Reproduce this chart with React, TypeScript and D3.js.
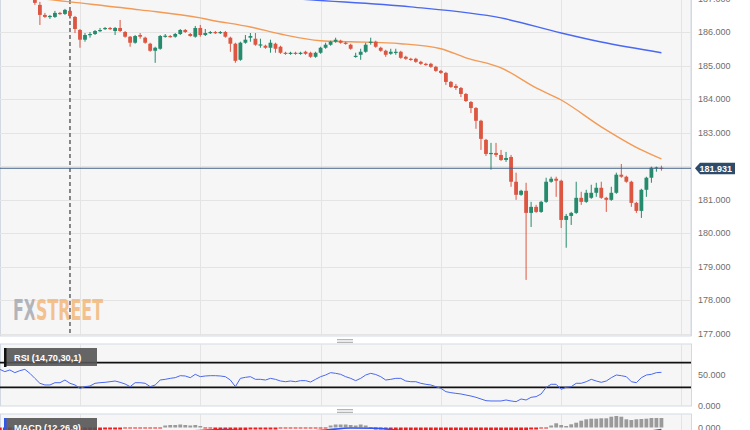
import React from 'react';
import * as d3 from 'd3';

// ---------- data ----------
const candleOpen = [
  186.96, 186.81, 186.51, 186.45, 186.45, 186.57, 186.54, 186.63, 186.45, 186.06,
  185.77, 185.91, 185.94, 186.03, 186.09, 186.12, 186.03, 186.12, 186.00, 185.86,
  185.68, 185.91, 185.83, 185.65, 185.44, 185.50, 185.87, 185.88, 185.86, 185.94,
  186.06, 185.94, 185.86, 186.12, 185.91, 185.97, 186.00, 185.97, 186.00, 185.83,
  185.65, 185.17, 185.68, 185.83, 185.80, 185.61, 185.59, 185.53, 185.65, 185.56,
  185.38, 185.35, 185.38, 185.35, 185.41, 185.38, 185.26, 185.38, 185.53, 185.62,
  185.71, 185.74, 185.68, 185.62, 185.26, 185.32, 185.41, 185.68, 185.71, 185.53,
  185.44, 185.35, 185.38, 185.41, 185.26, 185.20, 185.20, 185.11, 185.05, 185.05,
  184.96, 184.84, 184.78, 184.51, 184.39, 184.33, 184.15, 183.91, 183.73, 183.35,
  182.78, 182.36, 182.39, 182.33, 182.18, 182.27, 181.53, 181.14, 181.26, 180.60,
  180.78, 180.63, 180.93, 181.53, 181.62, 181.56, 180.39, 180.51, 180.60, 181.05,
  180.93, 181.05, 181.20, 181.35, 181.05, 180.99, 181.20, 181.74, 181.68, 181.53,
  180.90, 180.66, 181.29, 181.65, 181.93, 181.95,
];
const candleHigh = [
  187.00, 186.90, 186.57, 186.51, 186.63, 186.60, 186.69, 186.66, 186.48, 186.09,
  185.97, 186.00, 186.06, 186.12, 186.15, 186.15, 186.15, 186.36, 186.03, 185.88,
  185.91, 185.97, 185.86, 185.68, 185.56, 185.91, 185.94, 185.91, 185.97, 186.09,
  186.09, 185.97, 186.18, 186.21, 186.09, 186.03, 186.03, 186.03, 186.03, 185.86,
  185.68, 185.71, 185.91, 185.97, 185.97, 185.80, 185.62, 185.77, 185.68, 185.59,
  185.41, 185.41, 185.41, 185.41, 185.44, 185.41, 185.41, 185.56, 185.68, 185.74,
  185.83, 185.77, 185.71, 185.65, 185.38, 185.50, 185.68, 185.83, 185.74, 185.56,
  185.47, 185.50, 185.50, 185.44, 185.29, 185.23, 185.23, 185.14, 185.08, 185.08,
  184.99, 184.87, 184.81, 184.54, 184.45, 184.36, 184.18, 183.94, 183.76, 183.38,
  182.81, 182.69, 182.69, 182.48, 182.42, 182.33, 181.80, 181.29, 181.50, 180.93,
  180.84, 180.96, 181.65, 181.68, 181.68, 181.59, 180.57, 180.63, 181.53, 181.23,
  181.29, 181.44, 181.50, 181.53, 181.08, 181.38, 181.80, 182.06, 181.71, 181.56,
  180.93, 181.32, 181.68, 181.98, 181.98, 182.01,
];
const candleLow = [
  186.81, 186.21, 186.42, 186.39, 186.42, 186.51, 186.51, 186.39, 185.97, 185.53,
  185.71, 185.83, 185.91, 186.00, 186.06, 186.06, 185.91, 186.00, 185.83, 185.56,
  185.65, 185.80, 185.65, 185.41, 185.08, 185.47, 185.83, 185.83, 185.83, 185.91,
  185.97, 185.86, 185.83, 185.86, 185.88, 185.94, 185.94, 185.94, 185.83, 185.41,
  185.08, 185.14, 185.65, 185.71, 185.59, 185.53, 185.50, 185.38, 185.38, 185.35,
  185.32, 185.32, 185.32, 185.32, 185.32, 185.23, 185.23, 185.35, 185.50, 185.59,
  185.68, 185.65, 185.62, 185.47, 185.23, 185.17, 185.38, 185.62, 185.53, 185.41,
  185.26, 185.32, 185.32, 185.20, 185.17, 185.14, 185.08, 185.02, 184.99, 184.93,
  184.81, 184.75, 184.42, 184.33, 184.27, 184.06, 183.91, 183.58, 183.11, 182.48,
  182.30, 181.89, 182.27, 182.15, 182.12, 181.38, 180.99, 181.11, 178.60, 180.18,
  180.60, 180.60, 180.90, 181.50, 181.08, 180.15, 179.56, 180.24, 180.57, 180.84,
  180.90, 181.02, 181.08, 181.02, 180.63, 180.96, 181.17, 181.65, 181.50, 180.78,
  180.60, 180.45, 181.08, 181.50, 181.83, 181.86,
];
const candleClose = [
  186.87, 186.51, 186.45, 186.48, 186.57, 186.54, 186.66, 186.48, 186.09, 185.77,
  185.91, 185.94, 186.03, 186.06, 186.12, 186.09, 186.12, 186.03, 185.86, 185.68,
  185.88, 185.86, 185.68, 185.44, 185.53, 185.88, 185.89, 185.86, 185.94, 186.06,
  186.00, 185.88, 186.12, 185.91, 185.97, 186.00, 185.97, 186.00, 185.86, 185.65,
  185.14, 185.68, 185.77, 185.88, 185.62, 185.63, 185.53, 185.68, 185.50, 185.38,
  185.35, 185.38, 185.35, 185.38, 185.35, 185.26, 185.38, 185.53, 185.62, 185.71,
  185.77, 185.68, 185.65, 185.50, 185.29, 185.41, 185.62, 185.71, 185.56, 185.44,
  185.32, 185.41, 185.41, 185.23, 185.20, 185.17, 185.11, 185.05, 185.02, 184.96,
  184.84, 184.78, 184.51, 184.36, 184.33, 184.15, 183.94, 183.73, 183.35, 182.81,
  182.36, 182.39, 182.33, 182.18, 182.24, 181.53, 181.14, 181.26, 180.60, 180.78,
  180.63, 180.93, 181.53, 181.62, 181.56, 180.39, 180.51, 180.60, 181.05, 180.93,
  181.20, 181.20, 181.35, 181.05, 180.99, 181.20, 181.74, 181.68, 181.53, 180.90,
  180.66, 181.29, 181.65, 181.95, 181.96, 181.931,
];

// slow/fast moving averages, sampled at candle indices
const maFastIdx = [-7, 0, 7, 21, 33, 35, 43, 49, 57, 63, 73, 81, 86, 93, 100, 105, 113, 121, 125];
const maFastVal = [187.18, 187.02, 186.90, 186.66, 186.42, 186.36, 186.15, 185.94, 185.74, 185.71, 185.65, 185.50, 185.23, 184.93, 184.33, 183.97, 183.17, 182.48, 182.21];
const maSlowIdx = [40, 55, 75, 93, 105, 113, 125];
const maSlowVal = [187.12, 186.96, 186.75, 186.42, 185.97, 185.70, 185.38];

const rsiStart = -7;
const rsiValues = [
  59.1, 55.4, 58.1, 53.8, 57.0, 59.1, 52.7, 44.6, 36.6, 33.9,
  33.9, 37.6, 37.6, 41.9, 36.6, 33.9, 28.5, 31.2, 32.3, 36.6,
  37.6, 38.2, 39.2, 40.3, 38.2, 35.5, 31.2, 37.6, 37.6, 36.6,
  31.2, 33.9, 41.9, 43.0, 44.6, 45.7, 48.9, 48.4, 45.7, 51.1,
  47.3, 48.4, 48.9, 48.9, 48.4, 47.3, 41.9, 31.2, 44.6, 46.2,
  47.3, 43.0, 43.0, 41.9, 44.6, 43.0, 40.3, 39.2, 40.3, 39.2,
  40.9, 40.9, 38.7, 43.0, 47.3, 50.0, 53.8, 52.7, 51.1, 47.3,
  44.6, 40.9, 44.6, 50.0, 52.7, 50.8,
  47.3, 41.9, 43.0, 44.6, 44.6, 40.3, 39.2, 39.2, 36.6, 35.0,
  33.9, 31.2, 28.5, 23.1, 21.5, 20.4, 19.4, 17.7, 16.1, 14.0,
  11.3, 8.6, 8.1, 8.1, 8.1, 9.7, 8.1, 7.0, 11.3, 9.7,
  14.0, 15.1, 19.4, 30.1, 35.0, 35.0, 26.9, 30.1, 31.2, 36.6,
  36.6, 39.2, 43.0, 40.3, 38.2, 40.3, 45.7, 50.0, 48.9, 47.3,
  39.2, 37.6, 45.7, 50.0, 51.1, 53.8, 54.3,
];

const macdStart = -7;
const macdHist = [
  -0.03, -0.03, -0.04, -0.04, -0.05, -0.05, -0.05, -0.06, -0.06, -0.06,
  -0.06, -0.05, -0.05, -0.05, -0.05, -0.04, -0.04, -0.04, -0.03, -0.03,
  -0.03, -0.02, -0.02, -0.02, -0.02, -0.01, -0.01, -0.01, -0.01, -0.01,
  -0.01, -0.01, -0.01, 0.02, 0.025, 0.025, 0.03, 0.025, 0.02, 0.025,
  0.015, -0.01, -0.01, -0.02, -0.02, -0.03, -0.03, -0.03, -0.03, -0.03,
  -0.02, -0.02, -0.02, -0.02, -0.02, -0.02, -0.01, -0.01, -0.01, -0.01,
  -0.01, -0.01, -0.01, -0.01, -0.01, -0.01, 0.02, 0.03, 0.03, 0.03,
  0.025, 0.02, 0.03, 0.02, -0.01, -0.02, -0.02, -0.02, -0.03, -0.03,
  -0.03, -0.03, -0.04, -0.04, -0.04, -0.05, -0.05, -0.05, -0.06, -0.06,
  -0.07, -0.07, -0.08, -0.08, -0.08, -0.08, -0.07, -0.07, -0.06, -0.06,
  -0.05, -0.05, -0.04, -0.04, -0.03, -0.03, -0.02, -0.02, -0.01, -0.01,
  0.02, 0.042, 0.025, 0.015, 0.032, 0.048, 0.068, 0.082, 0.088, 0.088,
  0.092, 0.092, 0.108, 0.115, 0.108, 0.082, 0.075, 0.082, 0.085, 0.088,
  0.095, 0.095, 0.095,
];
const macdLineIdx = [-7, 10, 25, 33, 38, 42, 50, 58, 63, 68, 73, 85, 95, 105, 115, 121, 125];
const macdLineVal = [-0.08, -0.09, -0.05, -0.03, -0.02, -0.035, -0.05, -0.025, -0.005, -0.008, -0.03, -0.12, -0.25, -0.2, -0.1, -0.05, -0.02];

const priceTicks = [177, 178, 179, 180, 181, 182, 183, 184, 185, 186, 187];
const rsiTicks = [0, 50];
const rsiLevels = [30, 70];
const macdTicks = [0];
const timeGridIdx = [9, 33, 57, 81, 105, 129];
const markerIdx = 7;
const lastPrice = 181.931;
const watermark = 'FXSTREET';

// ---------- layout ----------
const W = 750;
const H = 430;
const plotR = 691;
const mainTop = -1, mainBot = 336;
const rsiTop = 344, rsiBot = 406;
const macdTop = 414, macdBot = 470;

const RED = '#dc5641';
const GREEN = '#268a6c';
const GRID = '#e4e4e4';
const BORDER = '#d3d9e3';
const PANEL = '#f6f6f6';
const LABEL = '#6e6e6e';

export default function App() {
  const x = d3.scaleLinear().domain([-7, 131]).range([-0.2, 691.5]);
  const y = d3.scaleLinear().domain([177, 186]).range([333.5, 32]);
  const ry = d3.scaleLinear().domain([0, 100]).range([rsiBot, rsiTop]);
  const my = d3.scaleLinear().domain([-0.3, 0.12]).range([457.5, 415.5]);

  const lineFast = d3.line<number>().x((_, i) => x(maFastIdx[i])).y((d) => y(d)).curve(d3.curveMonotoneX)(maFastVal) || '';
  const lineSlow = d3.line<number>().x((_, i) => x(maSlowIdx[i])).y((d) => y(d)).curve(d3.curveMonotoneX)(maSlowVal) || '';
  const rsiPath = d3.line<number>().x((_, i) => x(rsiStart + i)).y((d) => ry(d))(rsiValues) || '';
  const macdPath = d3.line<number>().x((_, i) => x(macdLineIdx[i])).y((d) => my(d)).curve(d3.curveMonotoneX)(macdLineVal) || '';

  const bw = 3.8;
  const tagY = y(lastPrice);

  const handle = (cy: number) => (
    <g>
      <line x1={337} x2={353} y1={cy - 1.3} y2={cy - 1.3} stroke="#a8a8a8" strokeWidth={1.1} />
      <line x1={337} x2={353} y1={cy + 1.3} y2={cy + 1.3} stroke="#a8a8a8" strokeWidth={1.1} />
    </g>
  );

  const vgrid = (t: number, b: number) =>
    timeGridIdx.map((g) => (
      <line key={g} x1={Math.round(x(g)) + 0.5} x2={Math.round(x(g)) + 0.5} y1={t} y2={b} stroke={GRID} strokeWidth={1} />
    ));

  const wmFont = "'DejaVu Sans Condensed', 'DejaVu Sans', sans-serif";

  return (
    <svg width={W} height={H} style={{ position: 'absolute', left: 0, top: 0, background: '#fff' }} fontFamily="'Liberation Sans', Arial, sans-serif">
      <defs>
        <clipPath id="clipMain"><rect x={0} y={0} width={plotR} height={mainBot} /></clipPath>
        <clipPath id="clipRsi"><rect x={0} y={rsiTop} width={plotR} height={rsiBot - rsiTop} /></clipPath>
        <clipPath id="clipMacd"><rect x={0} y={macdTop} width={plotR} height={macdBot - macdTop} /></clipPath>
        <linearGradient id="wmFill" gradientUnits="userSpaceOnUse" x1={13} x2={103} y1={0} y2={0}>
          <stop offset="0.228" stopColor="#9aa0a8" />
          <stop offset="0.228" stopColor="#f2b06a" />
        </linearGradient>
      </defs>

      {/* main panel */}
      <rect x={0.5} y={mainTop} width={plotR - 0.5} height={mainBot - mainTop} fill={PANEL} stroke={BORDER} />
      <g clipPath="url(#clipMain)">
        {priceTicks.map((p) => (
          <line key={p} x1={0} x2={plotR} y1={Math.round(y(p)) + 0.5} y2={Math.round(y(p)) + 0.5} stroke={GRID} strokeWidth={1.2} />
        ))}
        {vgrid(0, mainBot)}
        {/* watermark */}
        <text
          x={13}
          y={320}
          opacity={0.75}
          fill="url(#wmFill)"
          fontFamily={wmFont}
          fontWeight="bold"
          fontSize={28}
          textLength={90}
          lengthAdjust="spacingAndGlyphs"
        >
          {watermark}
        </text>
        <line x1={x(markerIdx)} x2={x(markerIdx)} y1={0} y2={mainBot} stroke="#6b6b6b" strokeWidth={1.6} strokeDasharray="4,3" />
        <path d={lineSlow} fill="none" stroke="#4a68f2" strokeWidth={1.4} />
        <path d={lineFast} fill="none" stroke="#f39a55" strokeWidth={1.4} />
        {candleOpen.map((o, i) => {
          const c = candleClose[i];
          const up = c >= o;
          const col = up ? GREEN : RED;
          const cx = x(i);
          const top = y(Math.max(o, c));
          const bot = y(Math.min(o, c));
          return (
            <g key={i}>
              <line x1={cx} x2={cx} y1={y(candleHigh[i])} y2={y(candleLow[i])} stroke={col} strokeWidth={1} />
              <rect x={cx - bw / 2} y={top} width={bw} height={Math.max(1.2, bot - top)} fill={col} />
            </g>
          );
        })}
        <line x1={0} x2={plotR} y1={tagY} y2={tagY} stroke="#43618a" strokeWidth={1.1} />
      </g>
      <line x1={plotR + 0.5} x2={plotR + 0.5} y1={0} y2={mainBot} stroke={BORDER} />
      {priceTicks
        .filter((p) => Math.abs(y(p) - tagY) > 10)
        .map((p) => (
          <text key={p} x={698} y={y(p) + 3.3} fontSize={9} fill={LABEL}>{d3.format('.3f')(p)}</text>
        ))}
      {/* last price tag */}
      <path
        d={`M695,${tagY} L700,${tagY - 5.5} L735,${tagY - 5.5} L735,${tagY + 6} L700,${tagY + 6} Z`}
        fill="#2e4b6c"
      />
      <text x={699.5} y={tagY + 3.4} fontSize={9} fontWeight="bold" fill="#fff">{d3.format('.3f')(lastPrice)}</text>

      {handle(341)}

      {/* RSI panel */}
      <rect x={0.5} y={rsiTop} width={plotR} height={rsiBot - rsiTop} fill={PANEL} stroke={BORDER} />
      <g clipPath="url(#clipRsi)">
        {vgrid(rsiTop, rsiBot)}
        {rsiLevels.map((l) => (
          <line key={l} x1={0} x2={plotR} y1={ry(l)} y2={ry(l)} stroke="#111" strokeWidth={1.6} />
        ))}
        <path d={rsiPath} fill="none" stroke="#4a68f2" strokeWidth={1} />
      </g>
      <rect x={4} y={348} width={93} height={18} fill="#555" opacity={0.9} />
      <rect x={4} y={348} width={2.5} height={19} fill="#111" />
      <text x={14} y={360.5} fontSize={9.2} fontWeight="bold" fill="#fff">RSI (14,70,30,1)</text>
      {rsiTicks.map((t) => (
        <text key={t} x={698} y={ry(t) + 3.3} fontSize={9} fill={LABEL}>{d3.format('.3f')(t)}</text>
      ))}

      {handle(411)}

      {/* MACD panel */}
      <rect x={0.5} y={macdTop} width={plotR} height={macdBot - macdTop} fill={PANEL} stroke={BORDER} />
      <g clipPath="url(#clipMacd)">
        {vgrid(macdTop, macdBot)}
        {macdHist.map((v, i) => {
          const cx = x(macdStart + i);
          const y0 = my(0);
          const y1 = my(v);
          return (
            <rect key={i} x={cx - 1.9} y={Math.min(y0, y1)} width={3.8} height={Math.abs(y1 - y0)} fill={v >= 0 ? '#9a9a9a' : '#ee1c1c'} />
          );
        })}
        <path d={macdPath} fill="none" stroke="#2f56f0" strokeWidth={1.6} />
      </g>
      <rect x={4} y={418} width={93} height={18} fill="#555" opacity={0.9} />
      <rect x={4} y={418} width={2.5} height={19} fill="#2f56f0" />
      <text x={14} y={431} fontSize={9.2} fontWeight="bold" fill="#fff">MACD (12,26,9)</text>
      {macdTicks.map((t) => (
        <text key={t} x={698} y={my(t) + 3.3} fontSize={9} fill={LABEL}>{d3.format('.3f')(t)}</text>
      ))}
    </svg>
  );
}
